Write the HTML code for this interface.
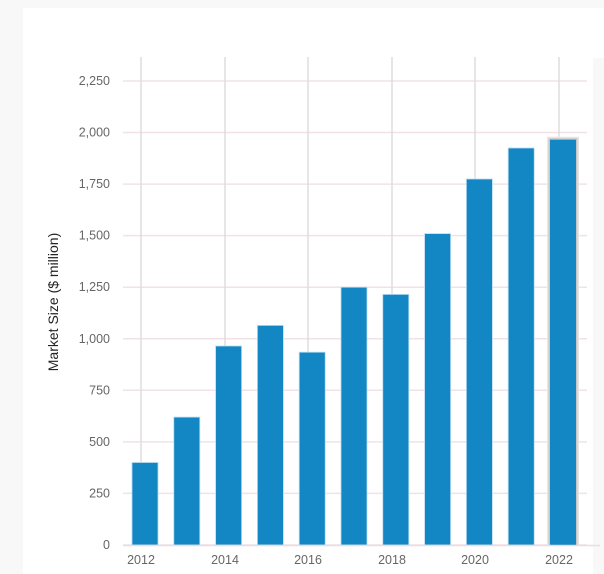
<!DOCTYPE html>
<html><head><style>
html,body{margin:0;padding:0;background:#f8f8f8;}
svg{display:block;font-family:"Liberation Sans",sans-serif;}
</style></head><body>
<svg width="604" height="574" xmlns="http://www.w3.org/2000/svg">
<rect x="0" y="0" width="604" height="574" fill="#f8f8f8"/>
<rect x="23" y="8" width="581" height="566" fill="#ffffff"/>
<rect x="593" y="58" width="11" height="516" fill="#f8f8f8"/>
<g stroke="#f0e2e6" stroke-width="1.5">
<line x1="123" x2="587" y1="545" y2="545"/>
<line x1="123" x2="587" y1="493.4" y2="493.4"/>
<line x1="123" x2="587" y1="441.9" y2="441.9"/>
<line x1="123" x2="587" y1="390.3" y2="390.3"/>
<line x1="123" x2="587" y1="338.8" y2="338.8"/>
<line x1="123" x2="587" y1="287.2" y2="287.2"/>
<line x1="123" x2="587" y1="235.6" y2="235.6"/>
<line x1="123" x2="587" y1="184.1" y2="184.1"/>
<line x1="123" x2="587" y1="132.5" y2="132.5"/>
<line x1="123" x2="587" y1="81" y2="81"/>
</g>
<g stroke="#dddddd" stroke-width="1.5">
<line x1="141" x2="141" y1="57" y2="545"/>
<line x1="225" x2="225" y1="57" y2="545"/>
<line x1="308" x2="308" y1="57" y2="545"/>
<line x1="392" x2="392" y1="57" y2="545"/>
<line x1="475" x2="475" y1="57" y2="545"/>
<line x1="559" x2="559" y1="57" y2="545"/>
</g>
<g fill="#1386c4" stroke="#b9dcf0" stroke-width="0.8">
<rect x="132" y="462.5" width="26" height="82.5"/>
<rect x="173.8" y="417.1" width="26" height="127.9"/>
<rect x="215.6" y="346" width="26" height="199"/>
<rect x="257.4" y="325.4" width="26" height="219.6"/>
<rect x="299.2" y="352.2" width="26" height="192.8"/>
<rect x="341" y="287.2" width="26" height="257.8"/>
<rect x="382.8" y="294.4" width="26" height="250.6"/>
<rect x="424.6" y="233.6" width="26" height="311.4"/>
<rect x="466.4" y="179" width="26" height="366"/>
<rect x="508.2" y="148" width="26" height="397"/>
</g>
<rect x="547" y="136.7" width="32" height="408.3" fill="#e6e6e6"/>
<rect x="548.5" y="138.2" width="29" height="406.8" fill="#c8c8c8"/>
<rect x="550" y="139.7" width="26" height="405.3" fill="#1386c4"/>
<line x1="123" x2="600" y1="545.5" y2="545.5" stroke="#e9dde1" stroke-width="1.5"/>
<g fill="#666" font-size="12.5" text-anchor="end">
<text x="110" y="549">0</text>
<text x="110" y="497.4">250</text>
<text x="110" y="445.9">500</text>
<text x="110" y="394.3">750</text>
<text x="110" y="342.8">1,000</text>
<text x="110" y="291.2">1,250</text>
<text x="110" y="239.6">1,500</text>
<text x="110" y="188.1">1,750</text>
<text x="110" y="136.5">2,000</text>
<text x="110" y="85">2,250</text>
</g>
<g fill="#666" font-size="12.5" text-anchor="middle">
<text x="141" y="564">2012</text>
<text x="225" y="564">2014</text>
<text x="308" y="564">2016</text>
<text x="392" y="564">2018</text>
<text x="475" y="564">2020</text>
<text x="559" y="564">2022</text>
</g>
<text transform="translate(58,302) rotate(-90)" fill="#222" font-size="14" text-anchor="middle">Market Size ($ million)</text>
</svg>
</body></html>
